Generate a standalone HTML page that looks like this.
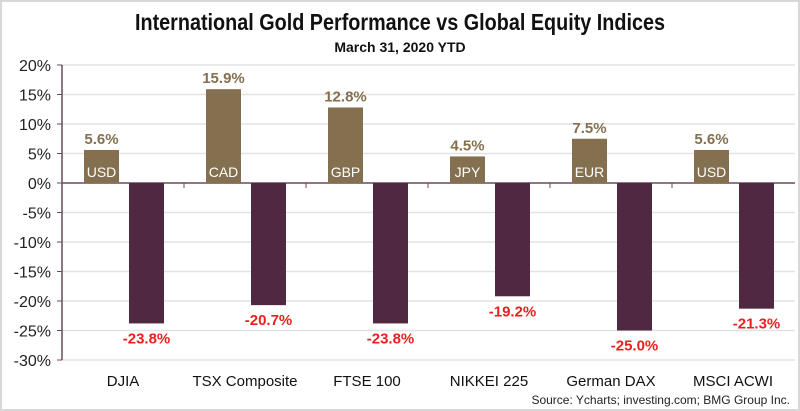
<!DOCTYPE html>
<html><head><meta charset="utf-8"><style>
body{margin:0;background:#fff;}
#wrap{position:relative;width:800px;height:411px;overflow:hidden;font-family:"Liberation Sans",sans-serif;}
</style></head><body>
<div id="wrap">
<svg id="chart" width="800" height="411">
<rect x="1" y="1" width="798" height="409" fill="#fff" stroke="#d8d8d8" stroke-width="2"/>
<text x="400" y="30" text-anchor="middle" font-size="23" font-weight="bold" fill="#111" textLength="530" lengthAdjust="spacingAndGlyphs">International Gold Performance vs Global Equity Indices</text>
<text x="400" y="52" text-anchor="middle" font-size="14" font-weight="bold" fill="#111">March 31, 2020 YTD</text>
<text x="790" y="404" text-anchor="end" font-size="12" fill="#222">Source: Ycharts; investing.com; BMG Group Inc.</text>
<g id="grid"></g><g id="bars"></g>
</svg>
</div>
<script>
const categories=["DJIA","TSX Composite","FTSE 100","NIKKEI 225","German DAX","MSCI ACWI"];
const goldValues=[5.6,15.9,12.8,4.5,7.5,5.6];
const currencies=["USD","CAD","GBP","JPY","EUR","USD"];
const indexValues=[-23.8,-20.7,-23.8,-19.2,-25.0,-21.3];
const yTicks=[20,15,10,5,0,-5,-10,-15,-20,-25,-30];
const NS="http://www.w3.org/2000/svg";
const x0=62,catW=122,yTop=65,yBot=360,vMax=20,vMin=-30;
function y(v){return yTop+(vMax-v)/(vMax-vMin)*(yBot-yTop);}
function cx(i){return x0+i*catW;}
function mk(tag,attrs,parent,text){const e=document.createElementNS(NS,tag);for(const k in attrs)e.setAttribute(k,attrs[k]);if(text!==undefined)e.textContent=text;parent.appendChild(e);return e;}
const grid=document.getElementById('grid'),bars=document.getElementById('bars');
yTicks.forEach(t=>{
  if(t!==0){const l=mk('line',{x1:x0,x2:795,y1:y(t),y2:y(t),stroke:'#e2e2e2','stroke-width':1.5},grid);
  
  }
  const tk=mk('line',{x1:x0-5,x2:x0,y1:y(t),y2:y(t),stroke:'#6b4a5c'},grid);
  
  
  const lb=mk('text',{x:x0-11,y:y(t)+6,'text-anchor':'end','font-size':16,fill:'#222'},grid,t+'%');
  
  
});
const ax=mk('line',{x1:x0,x2:x0,y1:yTop,y2:yBot,stroke:'#6b4a5c','stroke-width':1.5},grid);


categories.forEach((c,i)=>{
  const g=goldValues[i],m=indexValues[i],bx=cx(i);
  const gb=mk('rect',{x:bx+22,y:y(g),width:35,height:y(0)-y(g),fill:'#84704e'},bars);
  
  
  const gl=mk('text',{x:bx+39.5,y:y(g)-6,'text-anchor':'middle','font-size':15,'font-weight':'bold',fill:'#84704e'},bars,g.toFixed(1)+'%');
  
  
  const cl=mk('text',{x:bx+39.5,y:y(0)-6,'text-anchor':'middle','font-size':14,fill:'#fff'},bars,currencies[i]);
  
  
  const mb=mk('rect',{x:bx+67,y:y(0),width:35,height:y(m)-y(0),fill:'#502842'},bars);
  
  
  const ml=mk('text',{x:bx+84.5,y:y(m)+20,'text-anchor':'middle','font-size':15,'font-weight':'bold',fill:'#ea2020'},bars,m.toFixed(1)+'%');
  
  
  const xl=mk('text',{x:bx+catW/2,y:386,'text-anchor':'middle','font-size':15,fill:'#111'},bars,c);
  
  
  if(i>0){const t=mk('line',{x1:bx,x2:bx,y1:y(0),y2:y(0)+5,stroke:'#6b4a5c'},grid);
  
  }
});
const z=mk('line',{x1:x0,x2:795,y1:y(0),y2:y(0),stroke:'#6b4a5c','stroke-width':1.5},grid);


</script>
</body></html>
